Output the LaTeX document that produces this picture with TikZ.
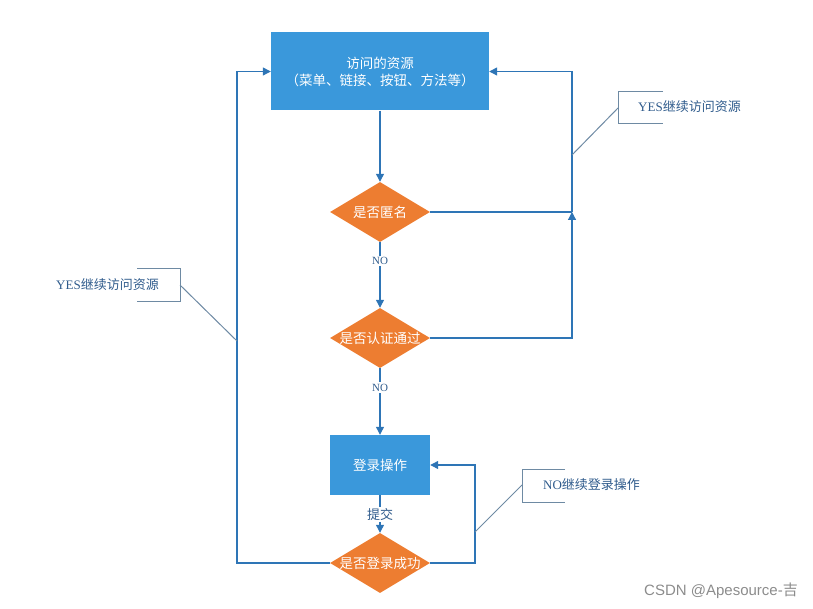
\documentclass[tikz,border=0pt]{standalone}
\usepackage{fontspec}
\setmainfont{Noto Sans CJK SC}
\newfontfamily\latfont{Liberation Serif}
\newfontfamily\wmfont{Liberation Sans}
\usetikzlibrary{arrows.meta,shapes.geometric}
\definecolor{boxblue}{HTML}{3A98DB}
\definecolor{dorange}{HTML}{ED7D31}
\definecolor{lineblue}{HTML}{2E75B6}
\definecolor{labblue}{HTML}{2F5B8C}
\definecolor{callgray}{HTML}{6E8AA3}
\begin{document}
\begin{tikzpicture}[x=1pt,y=-1pt,
 procbox/.style={fill=boxblue, draw=none, text=white, font=\fontsize{13.5pt}{17pt}\selectfont, align=center, inner sep=0pt},
 dia/.style={diamond, fill=dorange, draw=none, inner sep=0pt, minimum width=100pt, minimum height=60pt},
 diatext/.style={text=white, font=\fontsize{13.5pt}{16pt}\selectfont, inner sep=0pt},
 flow/.style={draw=lineblue, line width=1.2pt, -{Triangle[length=8pt,width=8pt]}},
 plainline/.style={draw=lineblue, line width=1.2pt},
 lab/.style={text=labblue, fill=white, font=\fontsize{13pt}{15pt}\selectfont, inner sep=1.5pt},
 callout/.style={draw=callgray, line width=1pt},
 calltext/.style={text=labblue, font=\fontsize{13pt}{16pt}\selectfont, inner sep=0pt, anchor=west}
]
\useasboundingbox (0,0) rectangle (813,609);

% process boxes
\node[procbox, minimum width=218pt, minimum height=78pt] (res) at (380,71.5) {访问的资源\\（菜单、链接、按钮、方法等）};
\node[procbox, minimum width=100pt, minimum height=60pt] (login) at (380,465) {登录操作};

% decisions
\node[dia] (d1) at (380,212) {};
\node[diatext] (t1) at (d1) {是否匿名};
\node[dia] (d2) at (380,338) {};
\node[diatext] (t2) at (d2) {是否认证通过};
\node[dia] (d3) at (380,563) {};
\node[diatext] (t3) at (d3) {是否登录成功};

% main flow
\draw[flow] (res.south) -- (d1.north);
\draw[flow] (d1.south) -- node[lab, pos=0.29] (no1) {\latfont\fontsize{11pt}{13pt}\selectfont NO} (d2.north);
\draw[flow] (d2.south) -- node[lab, pos=0.29] (no2) {\latfont\fontsize{11pt}{13pt}\selectfont NO} (login.north);
\draw[flow] (login.south) -- node[lab, pos=0.52] (sub) {提交} (d3.north);

% right loop
\coordinate (j1) at (572,212);
\draw[flow] (d2.east) -| (j1);
\draw[plainline] (d1.east) -- (j1);
\draw[flow] (j1) |- (res.east);

% left loop
\coordinate (lx) at (237,563);
\draw[flow] (d3.west) -- (lx) |- (res.west);

% bottom right loop
\coordinate (rx) at (475,563);
\draw[flow] (d3.east) -- (rx) |- (login.east);

% callout top right
\node[calltext] (c1) at (638,107) {{\latfont YES}继续访问资源};
\coordinate (c1a) at (663,92);
\coordinate (c1b) at (618,92);
\coordinate (c1c) at (618,124);
\coordinate (c1d) at (663,124);
\coordinate (c1m) at (618,108);
\coordinate (c1t) at (572,155);
\draw[callout] (c1a) -- (c1b) -- (c1c) -- (c1d);
\draw[callout] (c1m) -- (c1t);

% callout left
\node[calltext] (c2) at (56,285) {{\latfont YES}继续访问资源};
\coordinate (c2a) at (137,269);
\coordinate (c2b) at (180,269);
\coordinate (c2c) at (180,302);
\coordinate (c2d) at (137,302);
\coordinate (c2m) at (180,285);
\coordinate (c2t) at (237,341);
\draw[callout] (c2a) -- (c2b) -- (c2c) -- (c2d);
\draw[callout] (c2m) -- (c2t);

% callout bottom
\node[calltext] (c3) at (543,485) {{\latfont NO}继续登录操作};
\coordinate (c3a) at (565,469);
\coordinate (c3b) at (522,469);
\coordinate (c3c) at (522,502);
\coordinate (c3d) at (565,502);
\coordinate (c3m) at (522,485);
\coordinate (c3t) at (475,532);
\draw[callout] (c3a) -- (c3b) -- (c3c) -- (c3d);
\draw[callout] (c3m) -- (c3t);

% watermark
\node[text=black!45, font=\fontsize{15pt}{17pt}\selectfont, anchor=east, inner sep=0pt] (wm) at (798,591) {{\wmfont CSDN @Apesource-}吉};
\end{tikzpicture}
\end{document}
